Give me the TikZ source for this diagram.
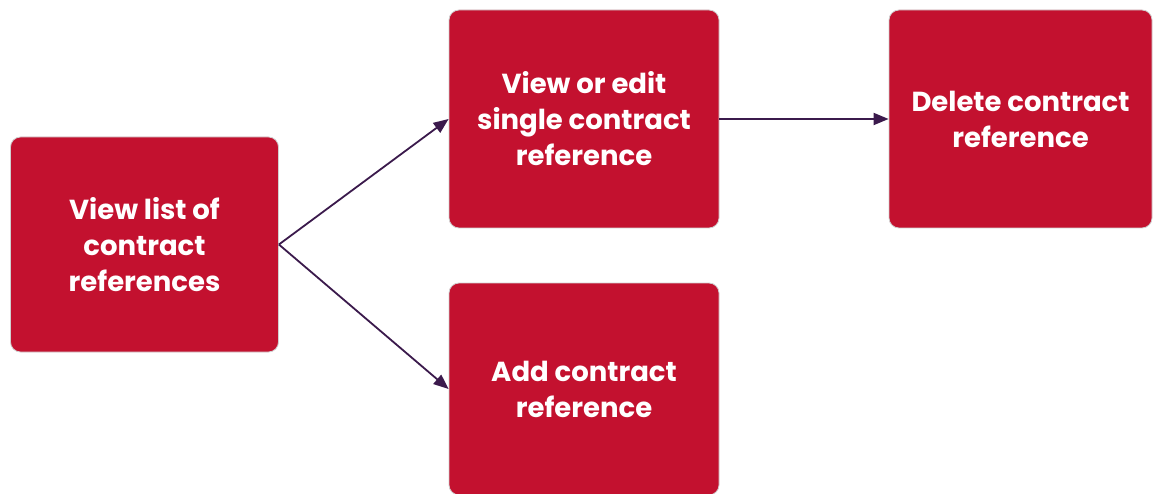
\documentclass[tikz,border=0pt]{standalone}
\usepackage{fontspec}
\setmainfont{Poppins}
\usetikzlibrary{arrows.meta}
\definecolor{boxred}{HTML}{C3112F}
\definecolor{arrowpurple}{HTML}{3B1A4C}
\definecolor{edgegray}{HTML}{D0D0D0}
\tikzset{
  stepbox/.style={draw=edgegray, line width=0.8pt, fill=boxred, rounded corners=10pt,
    text=white, align=center, font=\fontsize{27.5}{36}\selectfont\bfseries, inner sep=0pt},
  conn/.style={draw=arrowpurple, line width=1.8pt, -{Triangle[length=15pt,width=12pt]}}
}
\begin{document}
\begin{tikzpicture}[x=1pt,y=-1pt]
\useasboundingbox (0,0) rectangle (1153,494);
\node[stepbox, minimum width=268pt, minimum height=215pt] (L) at (144.5,244.5) {View list of\\contract\\references};
\node[stepbox, minimum width=270pt, minimum height=218pt] (T) at (584,119) {View or edit\\single contract\\reference};
\node[stepbox, minimum width=270pt, minimum height=212pt] (B) at (584,389) {Add contract\\reference};
\node[stepbox, minimum width=263pt, minimum height=218pt] (R) at (1020.5,119) {Delete contract\\reference};
\draw[conn] (L.east) -- (T.west);
\draw[conn] (L.east) -- (B.west);
\draw[conn] (T.east) -- (R.west);
\end{tikzpicture}
\end{document}
